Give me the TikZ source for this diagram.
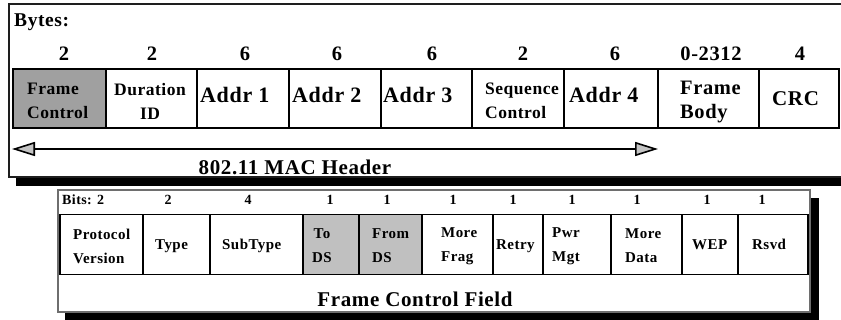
\documentclass[tikz,border=0pt]{standalone}
\usepackage{fontspec}
\setmainfont{Liberation Serif}[LetterSpace=3]
\usetikzlibrary{arrows.meta}
\definecolor{fcgray}{RGB}{160,160,160}
\definecolor{dsgray}{RGB}{192,192,192}
\definecolor{tipgray}{RGB}{196,196,196}
\definecolor{frameline}{RGB}{30,30,30}
\definecolor{loframeline}{RGB}{110,110,110}
\begin{document}
\begin{tikzpicture}[x=1pt,y=-1pt,
  upfield/.style={draw=black, line width=1.8pt, minimum height=59pt, inner sep=0pt},
  lofield/.style={draw=black, line width=1.8pt, minimum height=60pt, inner sep=0pt},
  bigtxt/.style={font=\fontsize{21}{24}\selectfont\bfseries, inner sep=0pt},
  numtxt/.style={font=\fontsize{20.5}{24}\selectfont\bfseries, inner sep=0pt},
  addrtxt/.style={font=\fontsize{22}{24}\selectfont\bfseries, inner sep=0pt},
  midtxt/.style={font=\fontsize{17.5}{24}\selectfont\bfseries, inner sep=0pt, align=left},
  lowtxt/.style={font=\fontsize{15}{24}\selectfont\bfseries, inner sep=0pt, align=left},
  bittxt/.style={font=\fontsize{14}{16}\selectfont\bfseries, inner sep=0pt},
  hdrarrow/.style={line width=1.6pt, {Triangle[length=23pt,width=14pt,fill=tipgray,line width=1.6pt]}-{Triangle[length=23pt,width=14pt,fill=tipgray,line width=1.6pt]}}
]
\useasboundingbox (0,0) rectangle (841,320);
\clip (0,0) rectangle (841,320);
\fill[white] (0,0) rectangle (841,320);

% ---------- upper panel ----------
\fill[black] (16,177.5) rectangle (850,186);
\draw[frameline, line width=1.5pt, fill=white] (9,4) rectangle (850,177);

\node[bigtxt, font=\fontsize{19.5}{24}\selectfont\bfseries, anchor=base west] (bytes) at (14,27) {Bytes:};

\node[numtxt, anchor=base] (b1) at (64,61) {2};
\node[numtxt, anchor=base] (b2) at (152,61) {2};
\node[numtxt, anchor=base] (b3) at (245,61) {6};
\node[numtxt, anchor=base] (b4) at (337,61) {6};
\node[numtxt, anchor=base] (b5) at (432,61) {6};
\node[numtxt, anchor=base] (b6) at (523,61) {2};
\node[numtxt, anchor=base] (b7) at (615,61) {6};
\node[numtxt, anchor=base] (b8) at (711,61) {0-2312};
\node[numtxt, anchor=base] (b9) at (800,61) {4};

\node[upfield, fill=fcgray, minimum width=93pt] (fc) at (59.5,98.5) {};
\node[upfield, minimum width=91pt] (du) at (151.5,98.5) {};
\node[upfield, minimum width=92pt] (a1) at (243,98.5) {};
\node[upfield, minimum width=92pt] (a2) at (335,98.5) {};
\node[upfield, minimum width=91pt] (a3) at (426.5,98.5) {};
\node[upfield, minimum width=92pt] (sc) at (518,98.5) {};
\node[upfield, minimum width=94pt] (a4) at (611,98.5) {};
\node[upfield, minimum width=101pt] (fb) at (708.5,98.5) {};
\node[upfield, minimum width=80pt] (crc) at (799,98.5) {};

\node[midtxt, anchor=west] (fct) at (27,101) {Frame\\Control};
\node[midtxt, align=center] (dut) at (150,101) {Duration\\ID};
\node[addrtxt, anchor=base west] (a1t) at (200,103) {Addr 1};
\node[addrtxt, anchor=base west] (a2t) at (292,103) {Addr 2};
\node[addrtxt, anchor=base west] (a3t) at (383,103) {Addr 3};
\node[midtxt, anchor=west] (sct) at (485,101) {Sequence\\Control};
\node[addrtxt, anchor=base west] (a4t) at (569,103) {Addr 4};
\node[bigtxt, align=left, font=\fontsize{20.5}{24}\selectfont\bfseries, anchor=west] (fbt) at (680,102) {Frame\\Body};
\node[bigtxt, anchor=base west] (crct) at (772,106) {CRC};

\coordinate (hl) at (12,149);
\coordinate (hr) at (658,149);
\draw[hdrarrow] (hl) -- (hr);
\node[bigtxt, anchor=base] (mach) at (295,175) {802.11 MAC Header};

% ---------- lower panel ----------
\fill[black] (811,198) rectangle (819,320);
\fill[black] (65,312) rectangle (819,320);
\draw[loframeline, line width=1.2pt, fill=white] (58,190) rectangle (810,312);

\node[bittxt, anchor=base west] (bits) at (62,205) {Bits: 2};
\node[bittxt, anchor=base] (n2) at (168,205) {2};
\node[bittxt, anchor=base] (n3) at (248,205) {4};
\node[bittxt, anchor=base] (n4) at (330,205) {1};
\node[bittxt, anchor=base] (n5) at (387,205) {1};
\node[bittxt, anchor=base] (n6) at (453,205) {1};
\node[bittxt, anchor=base] (n7) at (513,205) {1};
\node[bittxt, anchor=base] (n8) at (572,205) {1};
\node[bittxt, anchor=base] (n9) at (637,205) {1};
\node[bittxt, anchor=base] (n10) at (707,205) {1};
\node[bittxt, anchor=base] (n11) at (762,205) {1};

\node[lofield, minimum width=83pt] (pv) at (101.5,244.5) {};
\node[lofield, minimum width=67pt] (ty) at (176.5,244.5) {};
\node[lofield, minimum width=93pt] (st) at (256.5,244.5) {};
\node[lofield, fill=dsgray, minimum width=56pt] (td) at (331,244.5) {};
\node[lofield, fill=dsgray, minimum width=63pt] (fd) at (390.5,244.5) {};
\node[lofield, minimum width=71pt] (mf) at (457.5,244.5) {};
\node[lofield, minimum width=50pt] (re) at (518,244.5) {};
\node[lofield, minimum width=68pt] (pm) at (577,244.5) {};
\node[lofield, minimum width=71pt] (md) at (646.5,244.5) {};
\node[lofield, minimum width=56pt] (we) at (710,244.5) {};
\node[lofield, minimum width=70pt] (rs) at (773,244.5) {};

\node[lowtxt, anchor=west] (pvt) at (73,246) {Protocol\\Version};
\node[lowtxt, anchor=base west] (tyt) at (155,250) {Type};
\node[lowtxt, anchor=base west] (stt) at (222,250) {SubType};
\node[lowtxt, align=center] (tdt) at (322,246) {To\\DS};
\node[lowtxt, anchor=west] (fdt) at (372,246) {From\\DS};
\node[lowtxt, anchor=west] (mft) at (441,246) {More\\Frag};
\node[lowtxt, anchor=base west] (ret) at (496,250) {Retry};
\node[lowtxt, anchor=west] (pmt) at (552,246) {Pwr\\Mgt};
\node[lowtxt, anchor=west] (mdt) at (625,246) {More\\Data};
\node[lowtxt, anchor=base west] (wet) at (692,250) {WEP};
\node[lowtxt, anchor=base west] (rst) at (752,250) {Rsvd};

\node[bigtxt, anchor=base] (fcf) at (415,307) {Frame Control Field};
\end{tikzpicture}
\end{document}
